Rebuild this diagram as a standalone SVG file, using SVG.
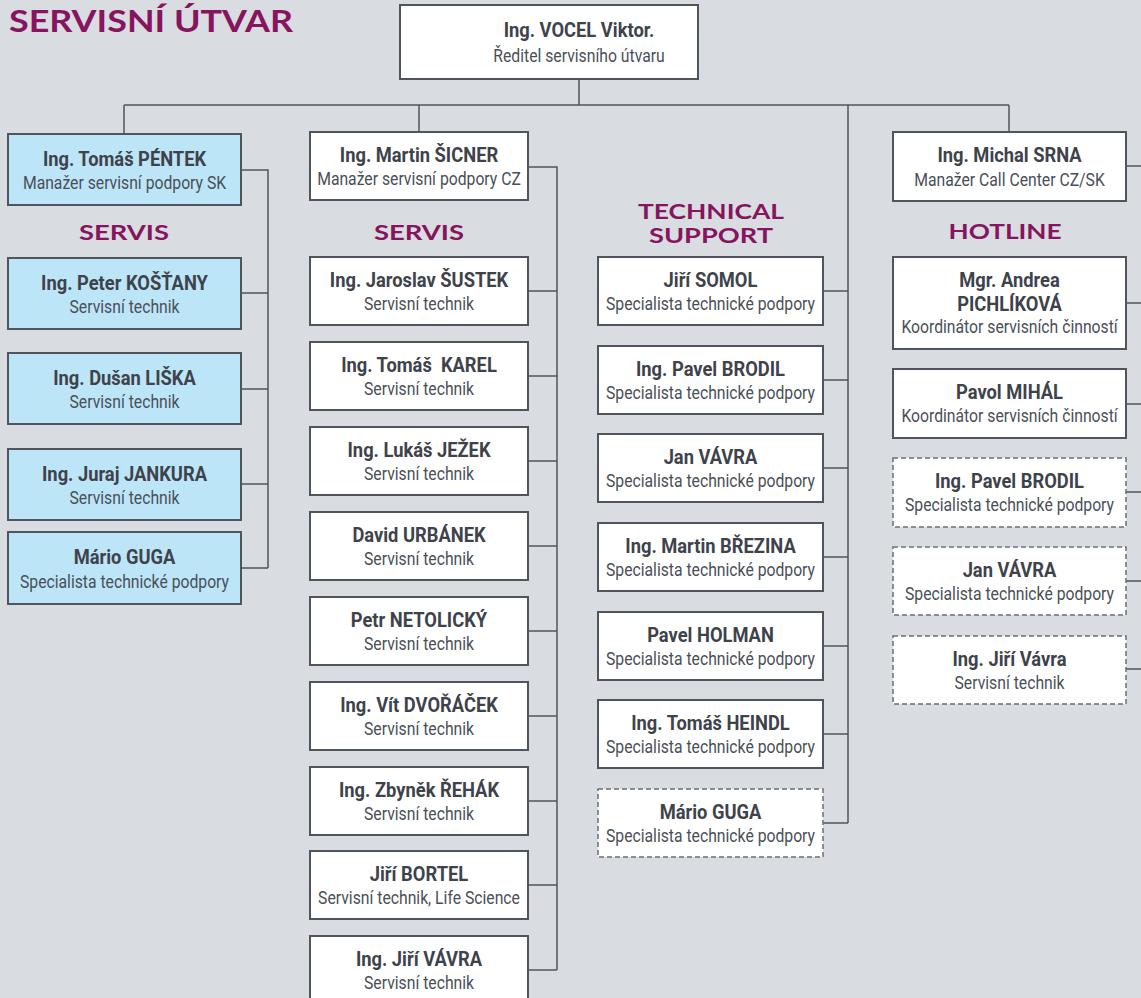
<svg xmlns="http://www.w3.org/2000/svg" width="1141" height="998" viewBox="0 0 1141 998">
<style>
.bg{fill:#d9dce0}
.box{fill:#ffffff;stroke:#50555d;stroke-width:2}
.blue{fill:#bde5f8;stroke:#50555d;stroke-width:2}
.dash{fill:#ffffff;stroke:#6a6e75;stroke-width:1.5;stroke-dasharray:5 3}
.n{font-family:Roboto,"Liberation Sans",sans-serif;font-weight:700;font-size:19.5px;fill:#3e434b;text-anchor:middle;transform-box:fill-box;transform-origin:center;transform:scaleX(0.94)}
.s{font-family:Roboto,"Liberation Sans",sans-serif;font-size:17.5px;fill:#4a4f57;text-anchor:middle;transform-box:fill-box;transform-origin:center;transform:scaleX(0.9)}
.h{font-family:Lato,"Liberation Sans",sans-serif;font-weight:700;font-size:20px;fill:#86145f;text-anchor:middle}
.t{font-family:Lato,"Liberation Sans",sans-serif;font-weight:700;font-size:30px;fill:#86145f}
.c{fill:none;stroke:#50555d;stroke-width:1.5}
</style>
<rect class="bg" x="0" y="0" width="1141" height="998"/>
<text class="t" x="9" y="32" textLength="284" lengthAdjust="spacingAndGlyphs">SERVISNÍ ÚTVAR</text>
<text class="h" x="124" y="240" textLength="90" lengthAdjust="spacingAndGlyphs">SERVIS</text>
<text class="h" x="419" y="240" textLength="90" lengthAdjust="spacingAndGlyphs">SERVIS</text>
<text class="h" x="711" y="219" textLength="146" lengthAdjust="spacingAndGlyphs">TECHNICAL</text>
<text class="h" x="711" y="243" textLength="124" lengthAdjust="spacingAndGlyphs">SUPPORT</text>
<text class="h" x="1005" y="239" textLength="113" lengthAdjust="spacingAndGlyphs">HOTLINE</text>

<g id="connectors">
<path class="c" d="M579 79V105M124 105H1009M124 105V134M419 105V132M1009 105V132M848 105V823"/>
<path class="c" d="M241 170H268V568M241 293H268M241 389H268M241 484H268M241 568H268"/>
<path class="c" d="M528 167H557V970M528 291H557M528 376H557M528 461H557M528 546H557M528 631H557M528 716H557M528 801H557M528 885H557M528 970H557"/>
<path class="c" d="M823 291H848M823 380H848M823 468H848M823 557H848M823 646H848M823 734H848M823 823H848"/>
<path class="c" d="M1126 166H1145M1126 303H1145M1126 404H1145M1126 492H1145M1126 581H1145M1126 669H1145M1144 166V669"/>
</g>

<g id="vocel"><rect class="box" x="400" y="5" width="298" height="74"/><text class="n" x="579" y="37">Ing. VOCEL Viktor.</text><text class="s" x="579" y="62">Ředitel servisního útvaru</text></g>

<g id="pentek"><rect class="blue" x="8" y="134" width="233" height="71"/><text class="n" x="124.5" y="166">Ing. Tomáš PÉNTEK</text><text class="s" x="124.5" y="189">Manažer servisní podpory SK</text></g>
<g id="kostany"><rect class="blue" x="8" y="258" width="233" height="71"/><text class="n" x="124.5" y="290">Ing. Peter KOŠŤANY</text><text class="s" x="124.5" y="313">Servisní technik</text></g>
<g id="liska"><rect class="blue" x="8" y="353" width="233" height="71"/><text class="n" x="124.5" y="385">Ing. Dušan LIŠKA</text><text class="s" x="124.5" y="408">Servisní technik</text></g>
<g id="jankura"><rect class="blue" x="8" y="449" width="233" height="71"/><text class="n" x="124.5" y="481">Ing. Juraj JANKURA</text><text class="s" x="124.5" y="504">Servisní technik</text></g>
<g id="guga-sk"><rect class="blue" x="8" y="532" width="233" height="72"/><text class="n" x="124.5" y="564">Mário GUGA</text><text class="s" x="124.5" y="588">Specialista technické podpory</text></g>

<g id="sicner"><rect class="box" x="310" y="132" width="218" height="68"/><text class="n" x="419" y="162">Ing. Martin ŠICNER</text><text class="s" x="419" y="185">Manažer servisní podpory CZ</text></g>
<g id="sustek"><rect class="box" x="310" y="257" width="218" height="68"/><text class="n" x="419" y="287">Ing. Jaroslav ŠUSTEK</text><text class="s" x="419" y="310">Servisní technik</text></g>
<g id="karel"><rect class="box" x="310" y="342" width="218" height="68"/><text class="n" x="419" y="372">Ing. Tomáš&#160; KAREL</text><text class="s" x="419" y="395">Servisní technik</text></g>
<g id="jezek"><rect class="box" x="310" y="427" width="218" height="68"/><text class="n" x="419" y="457">Ing. Lukáš JEŽEK</text><text class="s" x="419" y="480">Servisní technik</text></g>
<g id="urbanek"><rect class="box" x="310" y="512" width="218" height="68"/><text class="n" x="419" y="542">David URBÁNEK</text><text class="s" x="419" y="565">Servisní technik</text></g>
<g id="netolicky"><rect class="box" x="310" y="597" width="218" height="68"/><text class="n" x="419" y="627">Petr NETOLICKÝ</text><text class="s" x="419" y="650">Servisní technik</text></g>
<g id="dvoracek"><rect class="box" x="310" y="682" width="218" height="68"/><text class="n" x="419" y="712">Ing. Vít DVOŘÁČEK</text><text class="s" x="419" y="735">Servisní technik</text></g>
<g id="rehak"><rect class="box" x="310" y="767" width="218" height="68"/><text class="n" x="419" y="797">Ing. Zbyněk ŘEHÁK</text><text class="s" x="419" y="820">Servisní technik</text></g>
<g id="bortel"><rect class="box" x="310" y="851" width="218" height="68"/><text class="n" x="419" y="881">Jiří BORTEL</text><text class="s" x="419" y="904">Servisní technik, Life Science</text></g>
<g id="vavra-j"><rect class="box" x="310" y="936" width="218" height="68"/><text class="n" x="419" y="966">Ing. Jiří VÁVRA</text><text class="s" x="419" y="989">Servisní technik</text></g>

<g id="somol"><rect class="box" x="598" y="257" width="225" height="68"/><text class="n" x="710.5" y="287">Jiří SOMOL</text><text class="s" x="710.5" y="310">Specialista technické podpory</text></g>
<g id="brodil"><rect class="box" x="598" y="346" width="225" height="68"/><text class="n" x="710.5" y="376">Ing. Pavel BRODIL</text><text class="s" x="710.5" y="399">Specialista technické podpory</text></g>
<g id="vavra-jan"><rect class="box" x="598" y="434" width="225" height="68"/><text class="n" x="710.5" y="464">Jan VÁVRA</text><text class="s" x="710.5" y="487">Specialista technické podpory</text></g>
<g id="brezina"><rect class="box" x="598" y="523" width="225" height="68"/><text class="n" x="710.5" y="553">Ing. Martin BŘEZINA</text><text class="s" x="710.5" y="576">Specialista technické podpory</text></g>
<g id="holman"><rect class="box" x="598" y="612" width="225" height="68"/><text class="n" x="710.5" y="642">Pavel HOLMAN</text><text class="s" x="710.5" y="665">Specialista technické podpory</text></g>
<g id="heindl"><rect class="box" x="598" y="700" width="225" height="68"/><text class="n" x="710.5" y="730">Ing. Tomáš HEINDL</text><text class="s" x="710.5" y="753">Specialista technické podpory</text></g>
<g id="guga-ts"><rect class="dash" x="598" y="789" width="225" height="68"/><text class="n" x="710.5" y="819">Mário GUGA</text><text class="s" x="710.5" y="842">Specialista technické podpory</text></g>

<g id="srna"><rect class="box" x="893" y="132" width="233" height="69"/><text class="n" x="1009.5" y="162">Ing. Michal SRNA</text><text class="s" x="1009.5" y="186">Manažer Call Center CZ/SK</text></g>
<g id="pichlikova"><rect class="box" x="893" y="257" width="233" height="92"/><text class="n" x="1009.5" y="287">Mgr. Andrea</text><text class="n" x="1009.5" y="311">PICHLÍKOVÁ</text><text class="s" x="1009.5" y="333">Koordinátor servisních činností</text></g>
<g id="mihal"><rect class="box" x="893" y="369" width="233" height="69"/><text class="n" x="1009.5" y="399">Pavol MIHÁL</text><text class="s" x="1009.5" y="422">Koordinátor servisních činností</text></g>
<g id="brodil-h"><rect class="dash" x="893" y="458" width="233" height="69"/><text class="n" x="1009.5" y="488">Ing. Pavel BRODIL</text><text class="s" x="1009.5" y="511">Specialista technické podpory</text></g>
<g id="vavra-h"><rect class="dash" x="893" y="547" width="233" height="68"/><text class="n" x="1009.5" y="577">Jan VÁVRA</text><text class="s" x="1009.5" y="600">Specialista technické podpory</text></g>
<g id="vavra-h2"><rect class="dash" x="893" y="636" width="233" height="68"/><text class="n" x="1009.5" y="666">Ing. Jiří Vávra</text><text class="s" x="1009.5" y="689">Servisní technik</text></g>
</svg>
